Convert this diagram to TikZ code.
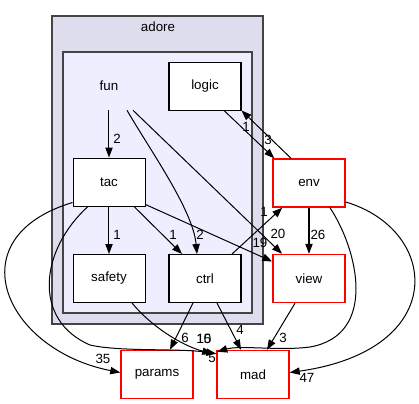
\documentclass[tikz,border=0pt]{standalone}
\usepackage{fontspec}
\setmainfont{Liberation Sans}
\usetikzlibrary{arrows.meta,calc}
\definecolor{outerfill}{HTML}{DDDDEE}
\definecolor{innerfill}{HTML}{EEEEFF}
\definecolor{clborder}{HTML}{444444}
\tikzset{
  dirbox/.style={draw=black, line width=0.75pt, fill=white, minimum width=54pt, minimum height=36pt, inner sep=0pt, font=\fontsize{10pt}{12pt}\selectfont},
  extbox/.style={dirbox, draw=red, line width=1.1pt},
  plainbox/.style={minimum width=54pt, minimum height=36pt, inner sep=0pt, font=\fontsize{10pt}{12pt}\selectfont},
  dep/.style={line width=0.75pt, -{Triangle[length=7.5pt,width=5.5pt]}},
  lbl/.style={inner sep=0pt, font=\fontsize{10pt}{12pt}\selectfont},
  cluster/.style={line width=1.5pt, draw=clborder}
}
\begin{document}
\begin{tikzpicture}[x=0.75pt,y=-0.75pt]
\useasboundingbox (0,0) rectangle (419,404);
% clusters
\draw[cluster, fill=outerfill] (52,16) rectangle (263,324);
\node[lbl] (adorelbl) at (158,27) {adore};
\draw[cluster, fill=innerfill] (63,52) rectangle (252,313);
% nodes
\node[plainbox] (fun) at (109,86) {fun};
\node[dirbox] (logic) at (205,86) {logic};
\node[dirbox] (tac) at (109,182) {tac};
\node[dirbox] (safety) at (109,278.5) {safety};
\node[dirbox] (ctrl) at (205,278.5) {ctrl};
\node[extbox] (env) at (309,183) {env};
\node[extbox] (view) at (309,278.5) {view};
\node[extbox] (params) at (157,374.5) {params};
\node[extbox] (mad) at (253,374.5) {mad};
% edges
\draw[dep] (fun.south) -- (tac.north);
\draw[dep] ($(fun.south)+(18,0)$) .. controls (150,150) and (193,210) .. ($(ctrl.north)+(-8,0)$);
\draw[dep] ($(fun.south)+(24,0)$) -- ($(view.north)+(-27,0)$);
\draw[dep] ($(logic.south)+(19,0)$) -- ($(env.north west)+(2,0)$);
\draw[dep] ($(env.north)+(-18,0)$) -- (logic.south east);
\draw[dep] (tac.south) -- (safety.north);
\draw[dep] ($(tac.south)+(25,0)$) -- ($(ctrl.north)+(-23,0)$);
\draw[dep] ($(tac.south east)+(0,-2)$) -- ($(view.west)+(0,-17)$);
\draw[dep] ($(tac.south west)+(0,-4)$) .. controls (-45,238) and (5,350) .. ($(params.west)+(0,-2)$);
\draw[dep] ($(tac.south)+(-21,0)$) .. controls (40,250) and (32,320) .. (90,345) .. controls (120,352) and (180,348) .. ($(mad.north west)+(0,4)$);
\draw[dep] ($(safety.south)+(23,0)$) .. controls (150,325) and (180,345) .. ($(mad.north west)+(-4,4)$);
\draw[dep] ($(ctrl.south)+(-12,0)$) -- ($(params.north)+(13,0)$);
\draw[dep] ($(ctrl.south)+(12,0)$) -- ($(mad.north)+(-12,0)$);
\draw[dep] ($(ctrl.north)+(27,0)$) -- ($(env.south west)+(10,0)$);
\draw[dep] (env.south) -- (view.north);
\draw[dep] ($(view.south)+(-14,0)$) -- ($(mad.north)+(14,0)$);
\draw[dep] ($(env.south)+(21,0)$) .. controls (358,250) and (378,335) .. (310,347) .. controls (280,351) and (240,345) .. ($(mad.north west)+(1,2)$);
\draw[dep] ($(env.east)+(0,19)$) .. controls (440,230) and (450,350) .. ($(mad.east)+(0,-2)$);
% edge labels
\node[lbl] (l1) at (117,139) {2};
\node[lbl] (l2) at (200,235) {2};
\node[lbl] (l3) at (278,234) {20};
\node[lbl] (l4) at (268,140) {3};
\node[lbl] (l5) at (246,127) {1};
\node[lbl] (l6) at (117,235) {1};
\node[lbl] (l7) at (173,235) {1};
\node[lbl] (l8) at (260,243) {19};
\node[lbl] (l9) at (103,359) {35};
\node[lbl] (l10) at (204,339) {15};
\node[lbl] (l11) at (204,339) {10};
\node[lbl] (l12) at (185,338) {6};
\node[lbl] (l13) at (212,358) {5};
\node[lbl] (l14) at (240,330) {4};
\node[lbl] (l15) at (264,212) {1};
\node[lbl] (l16) at (318,235) {26};
\node[lbl] (l17) at (283,338) {3};
\node[lbl] (l18) at (307,378) {47};
\end{tikzpicture}
\end{document}
